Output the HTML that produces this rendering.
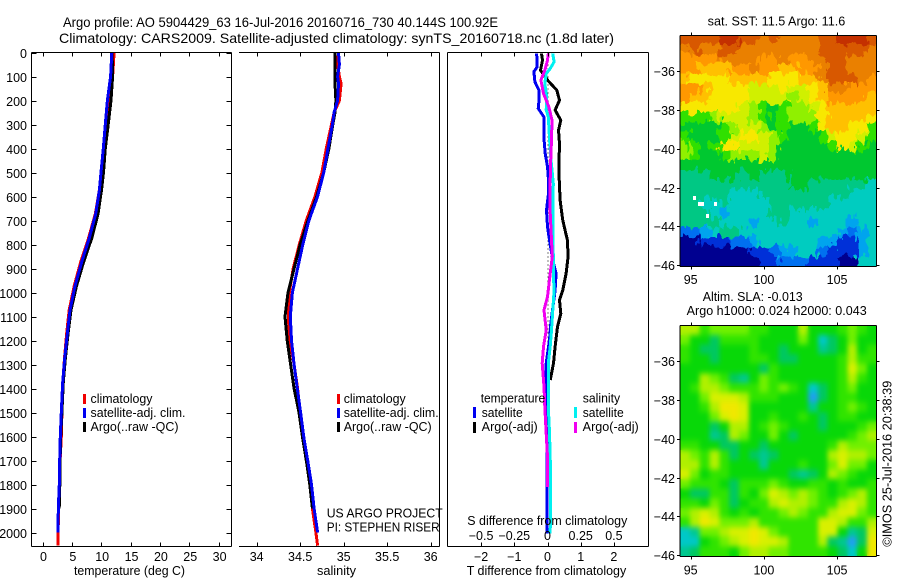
<!DOCTYPE html>
<html lang="en">
<head>
<meta charset="utf-8">
<title>Argo profile 5904429_63</title>
<style>
html,body{margin:0;padding:0;background:#fff;}
svg{display:block;}
text{font-family:"Liberation Sans",sans-serif;font-size:12.5px;fill:#000;}
</style>
</head>
<body>
<svg id="fig" xmlns="http://www.w3.org/2000/svg" width="900" height="580" viewBox="0 0 900 580">
  <defs>
    <clipPath id="clipSST"><rect x="680" y="35.5" width="196.5" height="231"/></clipPath>
    <clipPath id="clipSLA"><rect x="680" y="325.5" width="196.5" height="231"/></clipPath>
    <filter id="jagged" filterUnits="userSpaceOnUse" x="670" y="25" width="220" height="255" color-interpolation-filters="sRGB">
      <feTurbulence type="fractalNoise" baseFrequency="0.2 0.1" numOctaves="2" seed="3" result="noise"/>
      <feDisplacementMap in="SourceGraphic" in2="noise" scale="16" xChannelSelector="R" yChannelSelector="G" result="moved"/>
      <feMerge><feMergeNode in="SourceGraphic"/><feMergeNode in="moved"/></feMerge>
    </filter>
    <filter id="smooth" filterUnits="userSpaceOnUse" x="670" y="315" width="220" height="255" color-interpolation-filters="sRGB">
      <feGaussianBlur in="SourceGraphic" stdDeviation="2.5 3" result="soft"/>
      <feMerge><feMergeNode in="SourceGraphic"/><feMergeNode in="soft"/></feMerge>
    </filter>
  </defs>
  <rect x="0" y="0" width="900" height="580" fill="#fff"/>
  <text x="63" y="27" textLength="435" lengthAdjust="spacingAndGlyphs" style="font-size:14px">Argo profile: AO 5904429_63 16-Jul-2016 20160716_730 40.144S 100.92E</text>
  <text x="59" y="43" textLength="555" lengthAdjust="spacingAndGlyphs" style="font-size:14px">Climatology: CARS2009. Satellite-adjusted climatology: synTS_20160718.nc (1.8d later)</text>

  <g clip-path="url(#clipSST)"><g id="heatSST" filter="url(#jagged)"></g></g>
  <g id="gapsSST"></g>
  <g clip-path="url(#clipSLA)"><g id="heatSLA" filter="url(#smooth)"></g></g>
  <g id="plots"></g>
  <g id="axes"></g>

  <text x="74" y="575" textLength="111" lengthAdjust="spacingAndGlyphs">temperature (deg C)</text>
  <text x="317" y="575" textLength="39" lengthAdjust="spacingAndGlyphs">salinity</text>
  <text x="466.7" y="575" textLength="159.5" lengthAdjust="spacingAndGlyphs">T difference from climatology</text>
  <text x="467.3" y="525" textLength="160" lengthAdjust="spacingAndGlyphs">S difference from climatology</text>

  <g>
    <rect x="83" y="394" width="3" height="10" fill="#f00000"/>
    <rect x="83" y="408" width="3" height="10" fill="#0000f0"/>
    <rect x="83" y="422" width="3" height="10" fill="#000"/>
    <text x="90.5" y="403" textLength="62" lengthAdjust="spacingAndGlyphs">climatology</text>
    <text x="90.5" y="417" textLength="95" lengthAdjust="spacingAndGlyphs">satellite-adj. clim.</text>
    <text x="90.5" y="431" textLength="88" lengthAdjust="spacingAndGlyphs">Argo(..raw -QC)</text>
  </g>
  <g>
    <rect x="337" y="394" width="3" height="10" fill="#f00000"/>
    <rect x="337" y="408" width="3" height="10" fill="#0000f0"/>
    <rect x="337" y="422" width="3" height="10" fill="#000"/>
    <text x="343.7" y="403" textLength="62" lengthAdjust="spacingAndGlyphs">climatology</text>
    <text x="343.7" y="417" textLength="95" lengthAdjust="spacingAndGlyphs">satellite-adj. clim.</text>
    <text x="343.7" y="431" textLength="88" lengthAdjust="spacingAndGlyphs">Argo(..raw -QC)</text>
  </g>
  <g>
    <text x="480.7" y="402.7" textLength="64.5" lengthAdjust="spacingAndGlyphs">temperature</text>
    <rect x="473" y="407" width="3" height="11" fill="#0000f0"/>
    <rect x="473" y="422" width="3" height="11" fill="#000"/>
    <text x="481.7" y="417" textLength="41" lengthAdjust="spacingAndGlyphs">satellite</text>
    <text x="481.7" y="431" textLength="56" lengthAdjust="spacingAndGlyphs">Argo(-adj)</text>
    <text x="582.7" y="402.7" textLength="37.5" lengthAdjust="spacingAndGlyphs">salinity</text>
    <rect x="574" y="407" width="3" height="11" fill="#00f0f0"/>
    <rect x="574" y="422" width="3" height="11" fill="#f000f0"/>
    <text x="582.7" y="417" textLength="41" lengthAdjust="spacingAndGlyphs">satellite</text>
    <text x="582.7" y="431" textLength="56" lengthAdjust="spacingAndGlyphs">Argo(-adj)</text>
  </g>

  <text x="326.7" y="517.7" textLength="116" lengthAdjust="spacingAndGlyphs">US ARGO PROJECT</text>
  <text x="326.7" y="531.7" textLength="113" lengthAdjust="spacingAndGlyphs">PI: STEPHEN RISER</text>

  <text x="707.7" y="25.7" textLength="137.6" lengthAdjust="spacingAndGlyphs">sat. SST: 11.5  Argo: 11.6</text>
  <text x="702.7" y="301" textLength="100" lengthAdjust="spacingAndGlyphs">Altim. SLA: -0.013</text>
  <text x="686.7" y="315" textLength="180" lengthAdjust="spacingAndGlyphs">Argo h1000: 0.024  h2000: 0.043</text>
  <text transform="translate(891.7 546.7) rotate(-90)" textLength="166" lengthAdjust="spacingAndGlyphs">©IMOS 25-Jul-2016 20:38:39</text>
</svg>
<script>
// ---- profile data ----
var tempDepths = [0,100,200,300,400,500,573,673,773,873,973,1073,1173,1273,1373,1500,1600,1700,1800,1900,2000,2055];
var tempClim = [12.2,11.95,11.2,10.75,10.35,10,9.7,9.0,7.85,6.5,5.4,4.55,4.1,3.75,3.45,3.3,3.2,3,2.9,2.75,2.65,2.65];
var tempSat = [11.8,11.6,11.05,10.7,10.35,9.97,9.7,9.06,7.98,6.67,5.54,4.68,4.23,3.78,3.44,3.2,3.03,2.93,2.87,2.7,2.65];
var tempArgo = [11.85,11.95,11.67,11.2,10.7,10.4,10.05,9.45,8.4,7.0,5.8,4.85,4.35,3.9,3.55,3.3,3.1,3.0,2.95,2.85];

var salDepths = [0,50,100,130,200,250,300,400,500,600,700,800,900,1000,1100,1200,1300,1400,1500,1600,1700,1800,1900,2000,2055];
var salClim = [34.94,34.93,34.95,34.97,34.95,34.89,34.86,34.8,34.75,34.67,34.57,34.49,34.42,34.375,34.363,34.38,34.43,34.47,34.5,34.53,34.57,34.62,34.64,34.68,34.70];
var salSat = [34.94,34.95,34.93,34.94,34.93,34.89,34.87,34.82,34.77,34.7,34.6,34.53,34.47,34.41,34.386,34.40,34.43,34.467,34.505,34.54,34.586,34.63,34.66,34.70];
var salArgo = [34.9,34.9,34.9,34.9,34.91,34.9,34.875,34.83,34.77,34.69,34.59,34.5,34.43,34.36,34.325,34.35,34.39,34.43,34.486,34.525,34.57,34.61,34.64];

var dtArgoDepths = [4,32,74,115,157,199,240,282,324,379,490,615,657,699,782,851,921,990,1032,1087,1143,1226,1295,1365];
var dtArgo = [-0.18,-0.15,-0.21,0,0.28,0.36,0.23,0.4,0.33,0.36,0.34,0.38,0.42,0.46,0.6,0.62,0.56,0.46,0.36,0.4,0.3,0.23,0.18,0.08];
var dtSatDepths = [4,32,60,80,122,157,192,233,268,351,421,476,532,587,657,726,782,865,921,990,1129,1198,1295,1393,1476,1615,1810,2004];
var dtSat = [-0.33,-0.31,-0.31,-0.41,-0.38,-0.26,-0.25,-0.28,-0.11,-0.11,-0.07,0,0.03,0.03,-0.03,0,0.06,0.16,0.26,0.23,0.1,0.06,-0.04,-0.06,-0.04,-0.02,-0.02,-0.02];

var dsSatDepths = [4,39,67,88,129,185,240,268,351,435,546,668,851,921,990,1073,1157,1226,1295,1393,1476,1573,1684,1810,2004];
var dsSat = [0.039,0.05,0.02,-0.01,-0.02,-0.006,-0.01,0.006,0.014,0.024,0.044,0.04,0.044,0.044,0.05,0.04,0.03,0.02,0.006,0.006,0.006,0.014,0.02,0.024,0.02];
var dsArgoDepths = [4,32,74,115,171,226,282,365,449,532,668,851,921,1018,1073,1157,1226,1295,1393,1476,1587,1684,1810];
var dsArgo = [0.006,0,-0.02,-0.05,-0.03,0.01,0.034,0.03,0.024,0.02,0.02,0.036,0.02,0,-0.026,-0.01,-0.03,-0.04,-0.026,-0.02,-0.01,0,0];

// ---- axis tick labels ----
var depthTicks = [0,100,200,300,400,500,600,700,800,900,1000,1100,1200,1300,1400,1500,1600,1700,1800,1900,2000];
var tempTicks = [0,5,10,15,20,25,30];
var salTicks = [34,34.5,35,35.5,36];
var dtTicks = [-2,-1,0,1,2];
var dsTickLabels = ["−0.5","−0.25","0","0.25","0.5"];
var lonTicks = [95,100,105];
var latTicks = [-36,-38,-40,-42,-44,-46];

// ---- map data (palette level per cell, rows north to south) ----
var sstColors = ["#000090","#0030d8","#0070f0","#00a4ee","#00ccc0","#00c884","#00c830","#30e000","#90f000","#d0f000","#f8e800","#ffc000","#ff9800","#ea8000","#d85800","#c43000"];
var sstGrid = [
[14,14,14,14,15,15,14,14,13,14,13,13,13,13,14,14,15,15,15,14],
[13,14,13,13,14,14,13,13,13,13,13,13,13,13,14,14,14,14,14,13],
[12,12,12,12,13,13,13,13,12,12,13,12,12,13,13,14,14,13,13,13],
[12,12,11,11,11,12,12,13,12,12,11,11,12,12,13,14,14,13,13,13],
[11,10,10,10,10,11,11,11,11,10,10,10,11,11,13,14,14,14,13,12],
[12,12,11,10,10,10,10,9,9,9,10,9,9,10,11,13,13,12,12,12],
[12,11,11,10,10,10,10,9,9,9,9,8,9,10,11,12,12,12,12,11],
[10,10,10,10,10,10,9,8,7,6,7,8,8,9,10,11,11,11,11,11],
[7,7,7,8,9,9,9,8,7,6,7,8,8,8,10,11,11,11,11,10],
[6,6,6,6,7,8,9,9,8,6,7,6,6,7,10,11,11,10,10,7],
[7,6,6,6,7,9,10,10,9,8,7,6,6,6,7,9,10,10,9,7],
[8,7,6,7,10,10,9,9,9,8,6,6,6,6,6,7,10,9,7,6],
[8,7,6,6,7,8,8,8,9,8,6,6,6,6,6,6,6,6,6,6],
[6,6,6,6,6,6,6,6,6,6,6,6,6,6,6,6,6,6,6,6],
[5,5,5,6,6,6,5,6,5,5,5,6,6,6,6,6,6,6,6,6],
[5,5,5,5,5,5,5,5,5,5,5,6,6,5,5,5,5,5,5,4],
[5,5,5,5,5,4,4,4,5,5,5,5,5,5,5,5,5,4,4,4],
[5,5,4,4,5,4,4,4,4,5,5,5,5,5,5,4,4,4,4,4],
[5,5,5,4,3,4,4,4,4,5,5,4,4,4,4,4,4,4,4,4],
[5,5,5,5,4,4,4,3,4,4,5,4,4,3,4,4,4,3,4,4],
[2,2,3,4,5,5,4,4,4,4,4,4,4,4,4,4,3,2,3,4],
[0,0,1,1,1,2,2,3,4,4,4,4,4,4,3,3,1,1,3,4],
[0,0,0,0,0,0,0,1,1,2,3,3,4,4,2,1,1,1,3,4],
[0,0,0,0,0,0,0,0,1,1,2,2,2,1,1,1,0,0,4,4]
];
var sstGapLons = [95.15,95.5,95.7,96.6,96.05];
var sstGapLats = [-42.44,-42.75,-42.75,-42.75,-43.37];
var slaColors = ["#20a0f0","#00c8c8","#00c890","#00c860","#08d808","#30e400","#70f000","#b0f000","#d8f000","#f0e800"];
var slaGrid = [
[7,7,5,6,6,6,6,5,5,4,4,4,7,4,4,4,5,6,5,4],
[6,4,4,3,5,5,5,5,4,4,4,4,6,4,1,3,4,6,4,4],
[5,4,3,3,4,4,4,5,4,4,3,4,4,4,2,3,4,7,4,5],
[5,4,4,3,4,4,4,5,5,4,3,3,4,4,4,4,5,7,5,5],
[4,4,4,4,4,4,4,4,3,5,4,4,4,4,4,4,5,8,6,4],
[4,4,7,6,5,3,2,4,6,5,4,4,4,4,4,4,5,7,5,4],
[4,5,7,7,6,5,5,5,6,5,6,5,4,1,3,4,5,6,4,4],
[4,4,6,8,8,8,7,5,5,5,4,4,4,0,3,4,5,5,4,4],
[4,4,5,7,9,9,8,4,4,4,4,4,4,2,4,4,5,6,5,4],
[4,4,4,6,8,9,8,4,4,5,4,4,5,4,3,4,5,5,4,4],
[4,4,4,3,4,7,7,4,5,6,5,4,4,4,3,4,4,4,5,6],
[4,4,4,2,3,7,6,4,4,6,4,3,4,4,4,4,4,5,6,7],
[5,5,4,4,3,3,4,4,3,4,4,4,4,4,4,5,7,6,6,6],
[7,6,5,7,5,3,4,3,2,3,4,4,4,4,4,7,8,7,7,6],
[7,7,5,7,5,4,4,4,2,4,4,4,5,4,4,6,8,6,6,4],
[8,6,4,5,5,4,4,4,4,4,4,3,2,3,4,7,6,5,4,4],
[6,5,5,5,4,3,5,5,5,6,5,4,4,5,5,4,5,4,4,5],
[4,3,3,5,5,3,5,4,6,8,7,6,7,6,5,4,5,6,7,5],
[5,5,4,6,5,3,4,5,5,7,8,7,7,6,5,5,7,8,7,5],
[6,7,8,7,5,4,5,4,5,5,6,7,6,5,5,7,8,8,6,5],
[5,7,9,8,6,6,6,7,5,5,5,5,5,5,8,8,7,5,5,7],
[1,2,6,6,7,8,8,9,8,6,5,5,5,5,8,8,4,2,3,8],
[1,1,4,5,6,7,8,9,8,8,7,5,5,5,7,3,2,0,3,9],
[2,3,5,5,5,4,6,7,7,6,6,5,5,5,5,4,3,1,4,9]
];

// ---- scales ----
var NS = "http://www.w3.org/2000/svg";
function yDepth(d){ return 52.5 + d * 0.24; }
function xTemp(t){ return 42.5 + t * 5.87; }
function xSal(s){ return 256.7 + (s - 34) * 87; }
function xDT(t){ return 547.5 + t * 33.2; }
function xDS(s){ return 547.5 + s * 132.8; }
function xLon(l){ return 690.7 + (l - 95) * 14.64; }
function ySST(l){ return 71.3 + (-36 - l) * 19.37; }
function ySLA(l){ return 361.3 + (-36 - l) * 19.37; }

function node(tag, attrs, name, parent){
  var el = document.createElementNS(NS, tag);
  for (var k in attrs) el.setAttribute(k, attrs[k]);
  
  
  parent.appendChild(el);
  return el;
}
function label(x, y, str, anchor, name, parent){
  var el = node('text', {x:x, y:y, 'text-anchor':anchor}, name, parent);
  el.textContent = str;
  return el;
}
function line(x1, y1, x2, y2, name, parent){
  return node('line', {x1:x1, y1:y1, x2:x2, y2:y2, stroke:'#000', 'stroke-width':1, 'shape-rendering':'crispEdges'}, name, parent);
}
function profile(xs, ds, xf, color, name, extra){
  var pts = [];
  for (var i = 0; i < xs.length; i++) pts.push(xf(xs[i]).toFixed(1) + ',' + yDepth(ds[i]).toFixed(1));
  var a = {points:pts.join(' '), fill:'none', stroke:color, 'stroke-width':extra || 3, 'shape-rendering':'crispEdges', 'stroke-linejoin':'round'};
  return node('polyline', a, name, document.getElementById('plots'));
}
function heat(grid, colors, yf, parent, name){
  var lonW = 94.27, lonE = 107.72, latN = -34.14, latS = -46.05;
  var nr = grid.length, nc = grid[0].length;
  for (var r = 0; r < nr; r++){
    for (var c = 0; c < nc; c++){
      var x0 = xLon(lonW + (lonE - lonW) * c / nc), x1 = xLon(lonW + (lonE - lonW) * (c + 1) / nc);
      var y0 = yf(latN + (latS - latN) * r / nr), y1 = yf(latN + (latS - latN) * (r + 1) / nr);
      node('rect', {x:x0.toFixed(2), y:y0.toFixed(2), width:(x1 - x0 + 0.6).toFixed(2), height:(y1 - y0 + 0.6).toFixed(2), fill:colors[grid[r][c]], 'shape-rendering':'crispEdges'}, name, parent);
    }
  }
}

// ---- marks ----
profile(tempClim, tempDepths, xTemp, '#f00000', 'temperature-climatology-line');
profile(tempArgo, tempDepths, xTemp, '#000000', 'temperature-argo-line');
profile(tempSat, tempDepths, xTemp, '#0000f0', 'temperature-satellite-line');
profile(salClim, salDepths, xSal, '#f00000', 'salinity-climatology-line');
profile(salArgo, salDepths, xSal, '#000000', 'salinity-argo-line');
profile(salSat, salDepths, xSal, '#0000f0', 'salinity-satellite-line');
var zeroLine = node('line', {x1:xDT(0)+0.5, y1:yDepth(0), x2:xDT(0)+0.5, y2:yDepth(1300), stroke:'#000', 'stroke-width':1, 'stroke-dasharray':'1 3'}, 'zero-difference-line', document.getElementById('plots'));
profile(dtArgo, dtArgoDepths, xDT, '#000000', 't-difference-argo-line');
profile(dtSat, dtSatDepths, xDT, '#0000f0', 't-difference-satellite-line');
profile(dsSat, dsSatDepths, xDS, '#00f0f0', 's-difference-satellite-line');
profile(dsArgo, dsArgoDepths, xDS, '#f000f0', 's-difference-argo-line');

heat(sstGrid, sstColors, ySST, document.getElementById('heatSST'), 'sst-cell');
heat(slaGrid, slaColors, ySLA, document.getElementById('heatSLA'), 'sla-cell');
sstGapLons.forEach(function(lon, i){
  node('rect', {x:xLon(lon).toFixed(1), y:ySST(sstGapLats[i]).toFixed(1), width:3, height:4, fill:'#fff', 'shape-rendering':'crispEdges'}, 'sst-missing-cell', document.getElementById('gapsSST'));
});

// ---- axes ----
var ax = document.getElementById('axes');
var T = 52.5, B = 546.5;
function hv(x1,y1,x2,y2,n){ line(x1,y1,x2,y2,n,ax); }
hv(31.5,T,231.5,T,'temperature-top-axis'); hv(31.5,B,231.5,B,'temperature-bottom-axis');
hv(31.5,T,31.5,B,'temperature-left-axis'); hv(231.5,T,231.5,B,'temperature-right-axis');
hv(239,T,439.5,T,'salinity-top-axis'); hv(239,B,439.5,B,'salinity-bottom-axis');
hv(439.5,T,439.5,B,'salinity-right-axis');
hv(447.5,T,648.5,T,'difference-top-axis'); hv(447.5,B,648.5,B,'difference-bottom-axis');
hv(447.5,T,447.5,B,'difference-left-axis'); hv(648.5,T,648.5,B,'difference-right-axis');

depthTicks.forEach(function(d){
  var y = Math.round(yDepth(d)) + 0.5;
  hv(31.5,y,36.5,y,'depth-tick');
  hv(226.5,y,231.5,y,'depth-tick-right');
  label(27, Math.round(yDepth(d)) + 5, String(d), 'end', 'depth-tick-label', ax);
});
tempTicks.forEach(function(t){
  var x = Math.round(xTemp(t)) + 0.5;
  hv(x,T,x,T+4,'temperature-tick-top');
  hv(x,B-4,x,B,'temperature-tick-bottom');
  label(xTemp(t)+1, 561, String(t), 'middle', 'temperature-tick-label', ax);
});
salTicks.forEach(function(s){
  var x = Math.round(xSal(s)) + 0.5;
  hv(x,T,x,T+4,'salinity-tick-top');
  hv(x,B-4,x,B,'salinity-tick-bottom');
  label(xSal(s), 561, String(s), 'middle', 'salinity-tick-label', ax);
});
dtTicks.forEach(function(t, i){
  var x = Math.round(xDT(t)) + 0.5;
  hv(x,T,x,T+4,'difference-tick-top');
  hv(x,B-4,x,B,'difference-tick-bottom');
  label(xDT(t), 561, String(t).replace('-', '−'), 'middle', 't-difference-tick-label', ax);
  label(xDT(t), 540, dsTickLabels[i], 'middle', 's-difference-tick-label', ax);
});

function mapFrame(top, bot, yf, baseline, prefix){
  var L = 680, R = 876.5;
  hv(L,top,R,top,prefix+'-top-axis'); hv(L,bot,R,bot,prefix+'-bottom-axis');
  hv(L,top,L,bot,prefix+'-left-axis'); hv(R,top,R,bot,prefix+'-right-axis');
  lonTicks.forEach(function(l){
    var x = Math.round(xLon(l)) + 0.5;
    hv(x,top-3,x,top,prefix+'-lon-tick-top');
    hv(x,bot,x,bot+3,prefix+'-lon-tick-bottom');
    label(xLon(l), baseline, String(l), 'middle', prefix+'-lon-label', ax);
  });
  latTicks.forEach(function(l){
    var y = Math.round(yf(l)) + 0.5;
    hv(L-3,y,L,y,prefix+'-lat-tick-left');
    hv(R,y,R+3,y,prefix+'-lat-tick-right');
    label(675, Math.round(yf(l)) + 5, '−' + Math.abs(l), 'end', prefix+'-lat-label', ax);
  });
}
mapFrame(35.5, 266.5, ySST, 284, 'sst-map');
mapFrame(325.5, 556.5, ySLA, 574.5, 'sla-map');
</script>
</body>
</html>
